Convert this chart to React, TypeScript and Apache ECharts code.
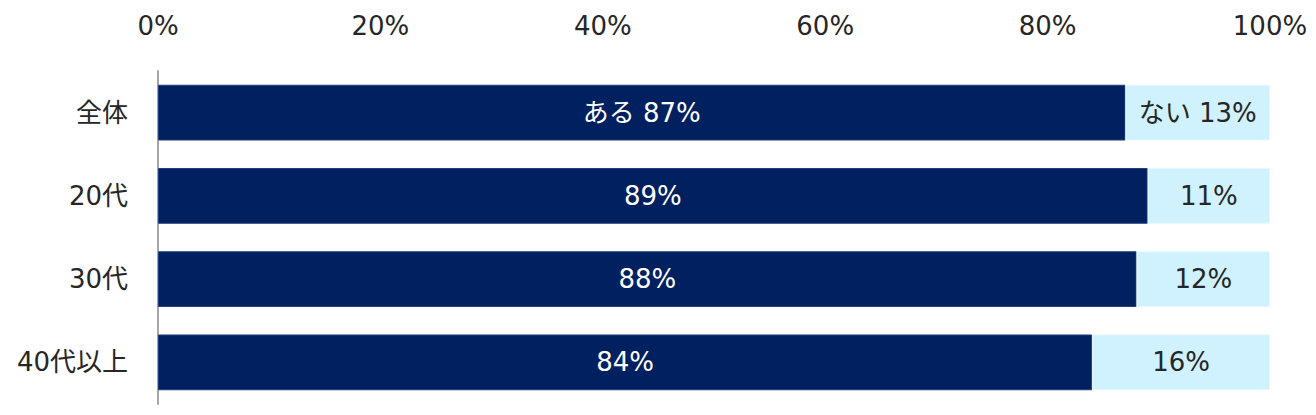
import React, { useEffect, useRef } from "react";
import * as echarts from "echarts";

const categories = ["全体", "20代", "30代", "40代以上"];
const aruValues = [87, 89, 88, 84];
const naiValues = [13, 11, 12, 16];
const xTicks = [0, 20, 40, 60, 80, 100];

const FONT = "'DejaVu Sans', 'Noto Sans CJK JP', sans-serif";
const FS = 26;

export default function App() {
  const ref = useRef<HTMLDivElement>(null);
  useEffect(() => {
    if (!ref.current) return;
    const chart = echarts.init(ref.current, undefined, { renderer: "svg" });
    chart.setOption({
      animation: false,
      grid: { left: 158, right: 46, top: 71, bottom: 11, containLabel: false },
      xAxis: {
        type: "value",
        position: "top",
        min: xTicks[0],
        max: xTicks[xTicks.length - 1],
        interval: 20,
        axisLine: { show: false },
        axisTick: { show: false },
        splitLine: { show: false },
        axisLabel: {
          formatter: "{value}%",
          fontSize: FS,
          color: "#262626",
          fontFamily: FONT,
          margin: 32,
        },
      },
      yAxis: {
        type: "category",
        data: categories,
        inverse: true,
        axisLine: { show: true, lineStyle: { color: "#a6a6a6", width: 2 } },
        axisTick: { show: false },
        axisLabel: { fontSize: FS, color: "#262626", fontFamily: FONT, margin: 30 },
      },
      series: [
        {
          type: "bar",
          stack: "s",
          data: aruValues,
          barCategoryGap: "33%",
          itemStyle: { color: "#00205f", borderColor: "#1f3f7a", borderWidth: 1 },
          label: {
            show: true,
            position: "inside",
            color: "#fff",
            fontSize: FS,
            fontFamily: FONT,
            formatter: (p: any) => (p.dataIndex === 0 ? "ある " : "") + p.value + "%",
          },
        },
        {
          type: "bar",
          stack: "s",
          data: naiValues,
          barCategoryGap: "33%",
          itemStyle: { color: "#d0f2ff", borderColor: "#e3f8ff", borderWidth: 1 },
          label: {
            show: true,
            position: "inside",
            color: "#262626",
            fontSize: FS,
            fontFamily: FONT,
            formatter: (p: any) => (p.dataIndex === 0 ? "ない " : "") + p.value + "%",
          },
        },
      ],
    });
    return () => chart.dispose();
  }, []);
  return <div ref={ref} style={{ width: 1316, height: 415, position: "absolute", left: 0, top: 0, background: "#fff" }} />;
}
